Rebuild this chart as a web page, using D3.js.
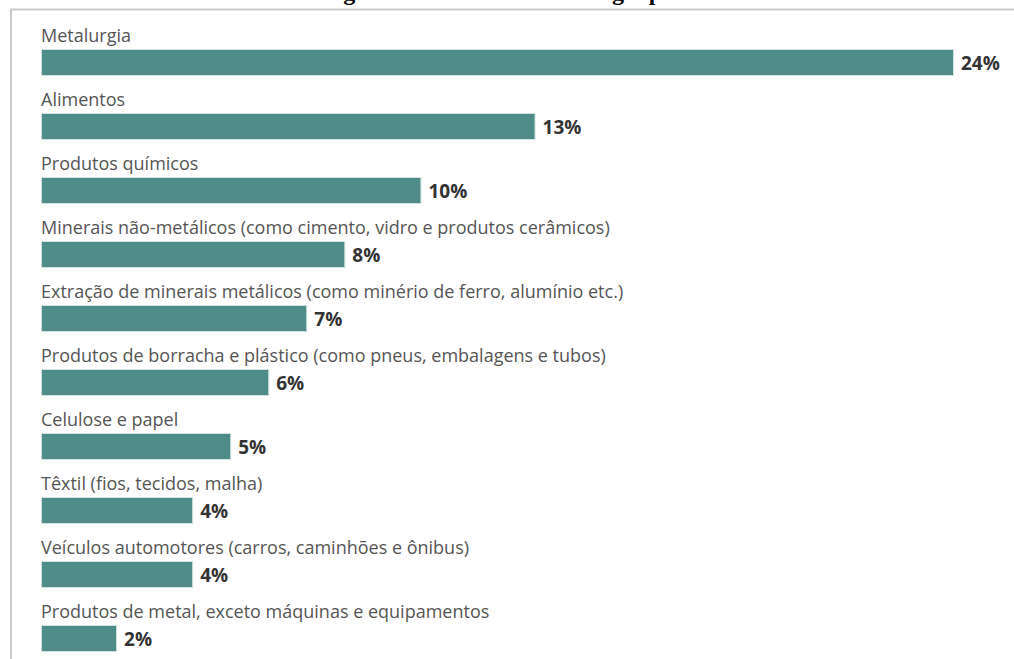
<!DOCTYPE html>
<html><head><meta charset="utf-8">
<script src="https://cdn.jsdelivr.net/npm/d3@7"></script>
<style>html,body{margin:0;padding:0;background:#fff;}</style>
</head><body>
<svg id="chart" width="1014" height="659"></svg>
<script>
const categories = [
  "Metalurgia",
  "Alimentos",
  "Produtos químicos",
  "Minerais não-metálicos (como cimento, vidro e produtos cerâmicos)",
  "Extração de minerais metálicos (como minério de ferro, alumínio etc.)",
  "Produtos de borracha e plástico (como pneus, embalagens e tubos)",
  "Celulose e papel",
  "Têxtil (fios, tecidos, malha)",
  "Veículos automotores (carros, caminhões e ônibus)",
  "Produtos de metal, exceto máquinas e equipamentos"
];
const values = [24, 13, 10, 8, 7, 6, 5, 4, 4, 2];
const title = "Figura 1 – Consumo de energia por indústria";

const svg = d3.select("#chart");
const x0 = 41;
const x = d3.scaleLinear().domain([0, 24]).range([x0, 954]);
const y = d3.scaleBand().domain(categories).range([30, 30 + 64 * 10]).paddingInner(0);

svg.append("text").attr("x", 322).attr("y", 0).attr("text-anchor", "start")
  .attr("font-family", "Liberation Serif, Times New Roman, serif").attr("font-weight", "bold")
  .attr("font-size", 24).attr("fill", "#000").text(title);

svg.append("path").attr("d", "M11,659 V9.5 H1014").attr("fill", "none")
  .attr("stroke", "#c9c9c9").attr("stroke-width", 2);

const g = svg.append("g");
const rows = g.selectAll("g.row").data(categories).join("g").attr("class", "row");

rows.append("text")
  .attr("x", x0).attr("y", d => y(d) + 12)
  .attr("font-family", "Open Sans, sans-serif").attr("font-size", 18).attr("fill", "#555")
  .text(d => d);

rows.append("rect")
  .attr("x", x0 + 0.5).attr("y", d => y(d) + 19.5)
  .attr("width", (d, i) => x(values[i]) - x0 - 1).attr("height", 26)
  .attr("fill", "#508c87").attr("stroke", "#cfe4e1").attr("stroke-width", 1);

rows.append("text")
  .attr("x", (d, i) => x(values[i]) + 7).attr("y", d => y(d) + 33)
  .attr("dominant-baseline", "central")
  .attr("font-family", "Open Sans, sans-serif").attr("font-weight", "bold").attr("font-size", 19).attr("fill", "#333")
  .text((d, i) => values[i] + "%");
</script>
</body></html>
